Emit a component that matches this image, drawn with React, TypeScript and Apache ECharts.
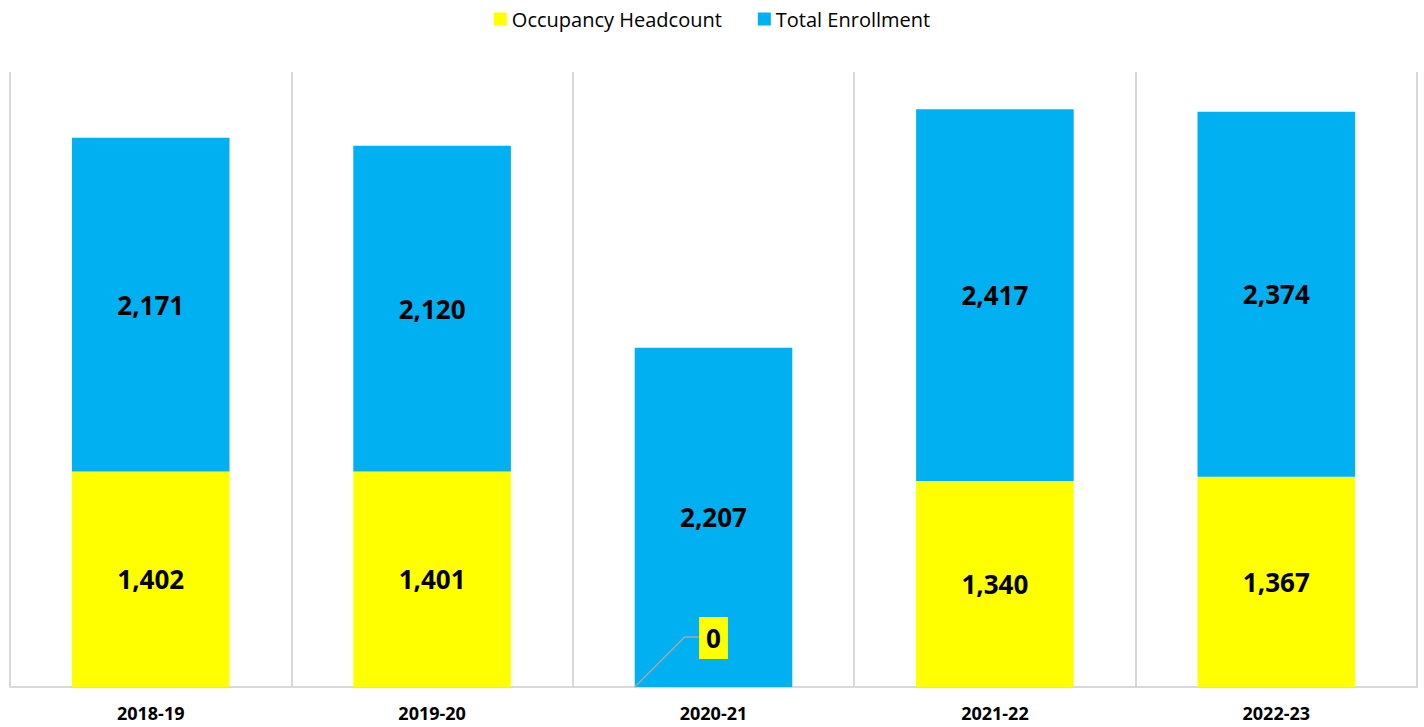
import React, { useEffect, useRef } from "react";
import * as echarts from "echarts";

const categories = ["2018-19", "2019-20", "2020-21", "2021-22", "2022-23"];
const occupancy = [1402, 1401, 0, 1340, 1367];
const enrollment = [2171, 2120, 2207, 2417, 2374];
const seriesNames = ["Occupancy Headcount", "Total Enrollment"];

const FONT = "'Open Sans', 'Noto Sans', sans-serif";
const BAR_RATIO = 0.56;

export default function App() {
  const ref = useRef<HTMLDivElement>(null);
  useEffect(() => {
    if (!ref.current) return;
    const chart = echarts.init(ref.current, null, { renderer: "svg" });
    const fmt = (p: any) => Number(p.value).toLocaleString("en-US");
    chart.setOption({
      animation: false,
      textStyle: { fontFamily: FONT },
      legend: {
        top: 4,
        left: "center",
        itemWidth: 13,
        itemHeight: 13,
        itemGap: 36,
        icon: "rect",
        textStyle: { fontSize: 20, color: "#000", fontFamily: FONT },
        data: seriesNames,
      },
      grid: { left: 10, right: 7, top: 72, bottom: 40, containLabel: false },
      xAxis: {
        type: "category",
        data: categories,
        boundaryGap: true,
        axisLine: { lineStyle: { color: "#d9d9d9", width: 2 } },
        axisTick: { show: false },
        splitLine: { show: true, lineStyle: { color: "#d9d9d9", width: 2 } },
        axisLabel: {
          color: "#000",
          fontWeight: "bold",
          fontSize: 18,
          margin: 17,
          fontFamily: FONT,
        },
      },
      yAxis: {
        type: "value",
        min: 0,
        max: 4000,
        show: false,
        splitLine: { show: false },
      },
      series: [
        {
          name: seriesNames[0],
          type: "bar",
          stack: "total",
          barWidth: BAR_RATIO * 100 + "%",
          itemStyle: { color: "#FFFF00" },
          data: occupancy.map((v) =>
            v === 0
              ? {
                  value: v,
                  label: {
                    backgroundColor: "#FFFF00",
                    padding: [9, 7, 7, 7],
                    offset: [0, -49],
                  },
                }
              : v
          ),
          label: {
            show: true,
            position: "inside",
            color: "#000",
            fontWeight: "bold",
            fontSize: 26,
            fontFamily: FONT,
            formatter: fmt,
          },
        },
        {
          name: seriesNames[1],
          type: "bar",
          stack: "total",
          barWidth: BAR_RATIO * 100 + "%",
          itemStyle: { color: "#00B0F0" },
          data: enrollment,
          label: {
            show: true,
            position: "inside",
            color: "#000",
            fontWeight: "bold",
            fontSize: 26,
            fontFamily: FONT,
            formatter: fmt,
          },
        },
      ],
    });

    // leader line for zero-valued occupancy labels
    const graphics: any[] = [];
    const step =
      (chart.convertToPixel({ xAxisIndex: 0 }, categories[1]) as number) -
      (chart.convertToPixel({ xAxisIndex: 0 }, categories[0]) as number);
    const bw = step * BAR_RATIO;
    occupancy.forEach((v, i) => {
      if (v !== 0) return;
      const p = chart.convertToPixel({ xAxisIndex: 0, yAxisIndex: 0 }, [i, v]) as number[];
      const x0 = p[0] - bw / 2;
      const y0 = p[1];
      graphics.push({
        type: "polyline",
        z: 10,
        shape: {
          points: [
            [x0, y0],
            [x0 + 50, y0 - 50],
            [p[0] - 15, y0 - 50],
          ],
        },
        style: { stroke: "#a6a6a6", lineWidth: 1.5, fill: null },
      });
    });
    chart.setOption({ graphic: graphics });
    return () => chart.dispose();
  }, []);
  return (
    <div
      ref={ref}
      style={{ position: "absolute", left: 0, top: 0, width: 1424, height: 727 }}
    />
  );
}
